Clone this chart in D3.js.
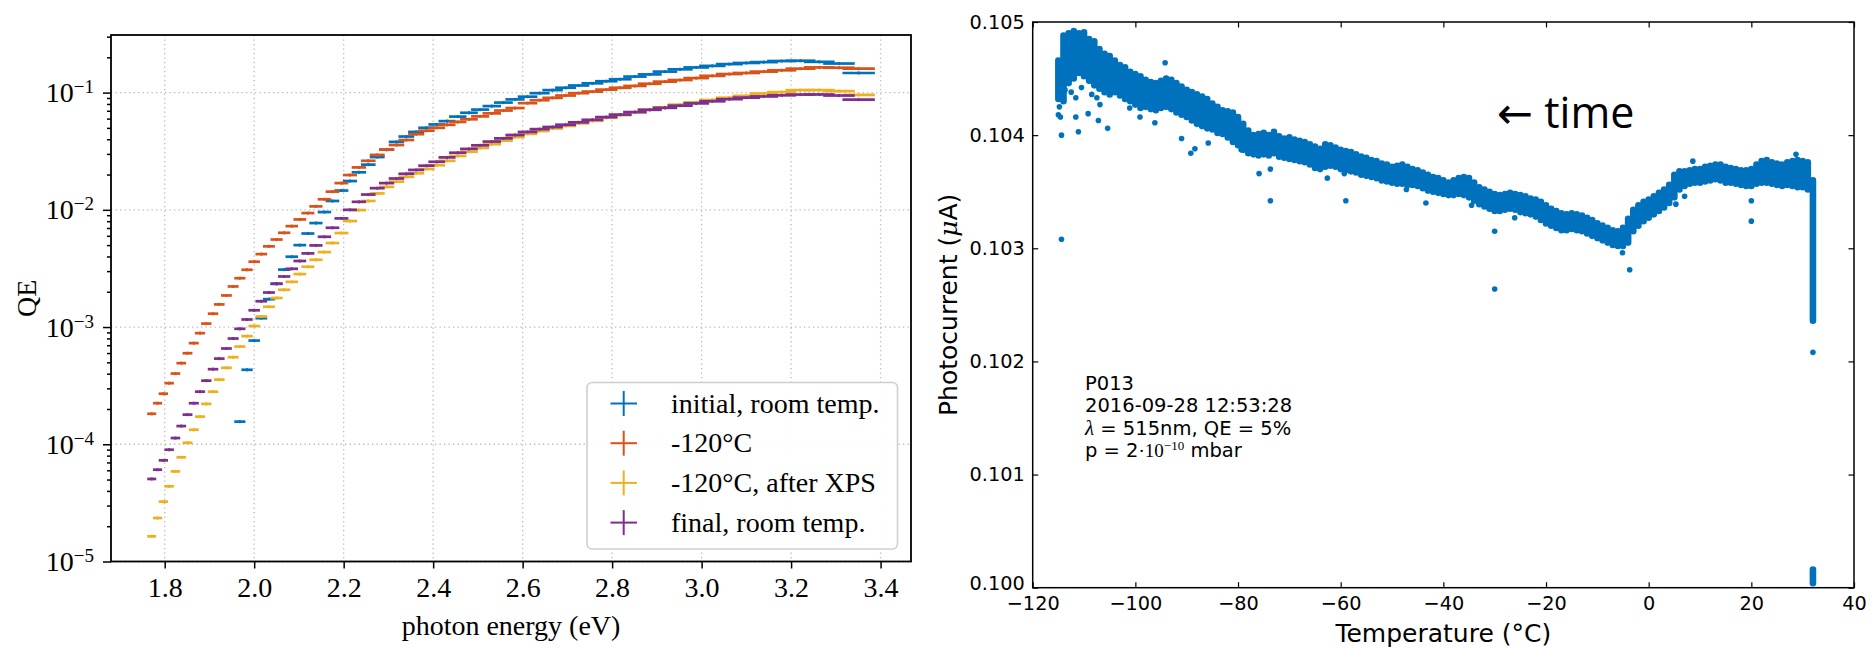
<!DOCTYPE html>
<html>
<head>
<meta charset="utf-8">
<script src="https://cdn.jsdelivr.net/npm/d3@7"></script>
<style>
  body { margin: 0; background: #fff; }
</style>
</head>
<body>
<svg id="chart" width="1876" height="648"></svg>
<script>
// ---------- left panel : QE spectra ----------
const photonEnergy = [1.771,1.784,1.797,1.810,1.824,1.837,1.851,1.865,1.879,1.893,
  1.908,1.922,1.938,1.953,1.968,1.984,2.000,2.016,2.033,2.050,
  2.067,2.084,2.102,2.120,2.138,2.157,2.175,2.195,2.214,2.234,
  2.255,2.275,2.296,2.318,2.340,2.362,2.385,2.408,2.431,2.455,
  2.480,2.505,2.531,2.557,2.583,2.611,2.638,2.667,2.696,2.725,
  2.756,2.787,2.818,2.851,2.884,2.918,2.952,2.988,3.024,3.062,
  3.100,3.139,3.179,3.221,3.263,3.307,3.351];

const qeInitial = [null,null,null,null,null,null,null,null,null,null,
  null,null,null,null,1.56e-4,4.32e-4,7.67e-4,1.19e-3,1.73e-3,2.34e-3,
  3.09e-3,3.98e-3,5.00e-3,6.28e-3,7.71e-3,9.57e-3,1.19e-2,1.46e-2,1.76e-2,2.09e-2,
  2.43e-2,2.82e-2,3.26e-2,3.80e-2,4.22e-2,4.62e-2,5.01e-2,5.35e-2,5.71e-2,6.24e-2,
  6.73e-2,7.16e-2,7.67e-2,8.22e-2,8.75e-2,9.23e-2,9.89e-2,0.105,0.110,0.115,
  0.120,0.125,0.130,0.137,0.143,0.151,0.158,0.164,0.169,0.175,
  0.179,0.182,0.186,0.187,0.183,0.177,0.147];

const qeCold = [1.82e-4,2.24e-4,2.70e-4,3.32e-4,4.01e-4,4.92e-4,5.98e-4,7.29e-4,8.87e-4,1.07e-3,
  1.30e-3,1.56e-3,1.86e-3,2.22e-3,2.61e-3,3.08e-3,3.61e-3,4.19e-3,4.88e-3,5.58e-3,
  6.37e-3,7.26e-3,8.28e-3,9.38e-3,1.07e-2,1.23e-2,1.43e-2,1.69e-2,1.98e-2,2.30e-2,
  2.62e-2,2.94e-2,3.26e-2,3.57e-2,3.94e-2,4.42e-2,4.73e-2,5.01e-2,5.31e-2,5.62e-2,
  5.92e-2,6.27e-2,6.65e-2,7.03e-2,7.38e-2,8.13e-2,8.61e-2,9.02e-2,9.44e-2,9.89e-2,
  0.102,0.106,0.110,0.114,0.119,0.124,0.128,0.133,0.139,0.144,
  0.147,0.151,0.155,0.160,0.164,0.163,0.160];

const qeColdXps = [1.64e-5,2.35e-5,3.24e-5,4.38e-5,5.87e-5,7.74e-5,1.03e-4,1.33e-4,1.72e-4,2.21e-4,
  2.81e-4,3.56e-4,4.49e-4,5.53e-4,6.82e-4,8.36e-4,1.02e-3,1.23e-3,1.49e-3,1.77e-3,
  2.08e-3,2.43e-3,2.83e-3,3.27e-3,3.75e-3,4.36e-3,5.21e-3,6.34e-3,8.02e-3,9.95e-3,
  1.19e-2,1.38e-2,1.57e-2,1.74e-2,1.91e-2,2.05e-2,2.23e-2,2.40e-2,2.62e-2,2.88e-2,
  3.13e-2,3.37e-2,3.63e-2,3.89e-2,4.17e-2,4.45e-2,4.70e-2,4.95e-2,5.20e-2,5.47e-2,
  5.75e-2,6.10e-2,6.43e-2,6.79e-2,7.16e-2,7.50e-2,7.89e-2,8.26e-2,8.65e-2,9.04e-2,
  9.38e-2,9.82e-2,0.101,0.105,0.105,0.103,9.55e-2];

const qeFinal = [5.06e-5,6.07e-5,7.29e-5,8.99e-5,1.13e-4,1.43e-4,1.79e-4,2.24e-4,2.81e-4,3.49e-4,
  4.37e-4,5.38e-4,6.56e-4,7.98e-4,9.66e-4,1.16e-3,1.39e-3,1.66e-3,1.97e-3,2.34e-3,
  2.70e-3,3.14e-3,3.66e-3,4.25e-3,4.97e-3,5.89e-3,7.03e-3,8.45e-3,1.00e-2,1.17e-2,
  1.35e-2,1.53e-2,1.69e-2,1.85e-2,2.03e-2,2.19e-2,2.38e-2,2.57e-2,2.80e-2,3.07e-2,
  3.31e-2,3.55e-2,3.82e-2,4.07e-2,4.35e-2,4.62e-2,4.88e-2,5.09e-2,5.32e-2,5.58e-2,
  5.86e-2,6.18e-2,6.49e-2,6.82e-2,7.13e-2,7.41e-2,7.74e-2,8.09e-2,8.43e-2,8.79e-2,
  9.06e-2,9.27e-2,9.48e-2,9.62e-2,9.64e-2,9.44e-2,8.71e-2];

const seriesNames = ["initial, room temp.", "-120°C", "-120°C, after XPS", "final, room temp."];
const seriesColors = ["#0072bd", "#d95319", "#edb120", "#7e2f8e"];
const bandwidthNm = 4;     // monochromator half width -> horizontal error bar
const qeRelErr = 0.03;     // vertical error bar
const energyTicks = [1.8, 2.0, 2.2, 2.4, 2.6, 2.8, 3.0, 3.2, 3.4];
const qeTicks = [1e-5, 1e-4, 1e-3, 1e-2, 1e-1];

// ---------- right panel : photocurrent vs temperature ----------
const bandTemp = [-115,-114,-113,-112,-111,-110,-109,-108,-107,-106,-105,-104,-103,-102,-101,
  -100,-99,-98,-97,-96,-95,-94,-93,-92,-91,-90,-89,-88,-87,-86,-85,-84,-83,-82,-81,
  -80,-79,-78,-77,-76,-75,-74,-73,-72,-71,-70,-69,-68,-67,-66,-65,-64,-63,-62,-61,
  -60,-59,-58,-57,-56,-55,-54,-53,-52,-51,-50,-49,-48,-47,-46,-45,-44,-43,-42,-41,
  -40,-39,-38,-37,-36,-35,-34,-33,-32,-31,-30,-29,-28,-27,-26,-25,-24,-23,-22,-21,
  -20,-19,-18,-17,-16,-15,-14,-13,-12,-11,-10,-9,-8,-7,-6,-5,-4,-3,-2,-1,
  0,1,2,3,4,5,6,7,8,9,10,11,12,13,14,15,16,17,18,19,
  20,21,22,23,24,25,26,27,28,29,30,31,32,32];

const bandLow = [0.10432,0.10430,0.10446,0.10450,0.10455,0.10452,0.10448,0.10444,0.10441,0.10438,0.10436,0.10438,0.10435,0.10432,0.10430,
  0.10427,0.10424,0.10425,0.10423,0.10422,0.10424,0.10425,0.10423,0.10420,0.10418,0.10416,0.10413,0.10410,0.10408,0.10406,0.10405,0.10402,0.10401,0.10398,0.10394,
  0.10391,0.10387,0.10384,0.10383,0.10382,0.10383,0.10382,0.10384,0.10381,0.10380,0.10379,0.10378,0.10377,0.10376,0.10374,0.10371,0.10370,0.10372,0.10373,0.10372,
  0.10370,0.10369,0.10368,0.10367,0.10365,0.10364,0.10363,0.10362,0.10360,0.10359,0.10358,0.10357,0.10357,0.10356,0.10356,0.10355,0.10353,0.10351,0.10350,0.10349,
  0.10348,0.10347,0.10347,0.10348,0.10347,0.10345,0.10342,0.10339,0.10337,0.10335,0.10333,0.10333,0.10334,0.10335,0.10334,0.10332,0.10331,0.10330,0.10328,0.10325,
  0.10322,0.10320,0.10318,0.10316,0.10316,0.10317,0.10316,0.10315,0.10313,0.10311,0.10309,0.10307,0.10305,0.10303,0.10302,0.10302,0.10305,0.10315,0.10320,0.10324,
  0.10327,0.10330,0.10333,0.10336,0.10340,0.10345,0.10352,0.10355,0.10357,0.10358,0.10358,0.10359,0.10360,0.10361,0.10360,0.10358,0.10358,0.10357,0.10356,0.10355,
  0.10355,0.10357,0.10358,0.10358,0.10357,0.10356,0.10355,0.10356,0.10355,0.10354,0.10354,0.10352,0.10236,0.10004];

const bandHigh = [0.10466,0.10488,0.10490,0.10492,0.10490,0.10491,0.10485,0.10483,0.10476,0.10472,0.10470,0.10466,0.10462,0.10460,0.10456,
  0.10454,0.10452,0.10449,0.10447,0.10446,0.10448,0.10450,0.10449,0.10446,0.10443,0.10440,0.10438,0.10436,0.10434,0.10432,0.10428,0.10425,0.10422,0.10421,0.10420,
  0.10416,0.10410,0.10404,0.10400,0.10401,0.10402,0.10400,0.10403,0.10399,0.10397,0.10398,0.10396,0.10395,0.10394,0.10392,0.10390,0.10388,0.10392,0.10391,0.10389,
  0.10387,0.10386,0.10385,0.10383,0.10381,0.10380,0.10378,0.10377,0.10375,0.10374,0.10372,0.10373,0.10374,0.10372,0.10370,0.10369,0.10367,0.10365,0.10363,0.10362,
  0.10360,0.10358,0.10360,0.10362,0.10363,0.10362,0.10358,0.10354,0.10352,0.10350,0.10348,0.10347,0.10348,0.10349,0.10348,0.10347,0.10346,0.10344,0.10343,0.10341,
  0.10338,0.10335,0.10333,0.10331,0.10330,0.10331,0.10330,0.10329,0.10327,0.10325,0.10322,0.10320,0.10318,0.10316,0.10315,0.10318,0.10326,0.10334,0.10338,0.10341,
  0.10343,0.10346,0.10349,0.10352,0.10356,0.10365,0.10368,0.10368,0.10369,0.10370,0.10370,0.10372,0.10373,0.10374,0.10374,0.10372,0.10371,0.10370,0.10369,0.10369,
  0.10370,0.10374,0.10377,0.10378,0.10376,0.10375,0.10374,0.10376,0.10377,0.10378,0.10377,0.10376,0.10360,0.10016];

const outlierTemp = [-114.4,-114.4,-114.6,-115.0,-114.8,-113.7,-112.5,-111.1,-111.6,-111.6,-110.5,-109.2,-108.5,-107.5,-107.2,-106.9,-105.4,
  -101.1,-99.1,-96.2,-94.2,-91.0,-89.2,-88.4,-85.8,-80.6,-79.4,-75.9,-73.7,-73.7,-62.6,-59.3,-59.0,
  -47.2,-43.4,-34.5,-30.0,-30.0,-26.1,-5.1,-3.7,5.3,7.0,8.6,20.0,20.0,28.7,32.0];
const outlierCurrent = [0.10308,0.10400,0.10416,0.10418,0.10425,0.10440,0.10438,0.10403,0.10416,0.10433,0.10442,0.10419,0.10436,0.10433,0.10413,0.10427,0.10406,
  0.10424,0.10416,0.10411,0.10464,0.10397,0.10384,0.10388,0.10393,0.10396,0.10387,0.10366,0.10370,0.10342,0.10362,0.10366,0.10342,
  0.10352,0.10340,0.10338,0.10315,0.10264,0.10327,0.10296,0.10281,0.10339,0.10346,0.10377,0.10342,0.10324,0.10383,0.10208];

const tempTicks = [-120, -100, -80, -60, -40, -20, 0, 20, 40];
const currentTicks = [0.100, 0.101, 0.102, 0.103, 0.104, 0.105];
const dotColor = "#0072bd";

// ================= drawing =================
const svg = d3.select("#chart");
svg.append("rect").attr("width", 1876).attr("height", 648).attr("fill", "#fff");

// ---- left panel ----
const L = { left: 111, right: 911, top: 35, bottom: 561.5 };
const xE = d3.scaleLinear().domain([1.680, 3.468]).range([L.left, L.right]);
const yQ = d3.scaleLog().domain([1e-5, 0.31]).range([L.bottom, L.top]);
const serif = "'Liberation Serif', 'Times New Roman', serif";

const gL = svg.append("g").attr("font-family", serif);

// dotted grid
gL.append("g").selectAll("line").data(energyTicks).join("line")
    .attr("x1", d => xE(d)).attr("x2", d => xE(d))
    .attr("y1", L.top).attr("y2", L.bottom);
gL.append("g").selectAll("line").data(qeTicks).join("line")
    .attr("x1", L.left).attr("x2", L.right)
    .attr("y1", d => yQ(d)).attr("y2", d => yQ(d));
gL.selectAll("g line")
    .attr("stroke", "#b8b8b8").attr("stroke-width", 1.3).attr("stroke-dasharray", "1.3,3.2");

// error bars
const halfWidth = e => e * e * bandwidthNm / 1240;
const qeSeries = [qeInitial, qeCold, qeColdXps, qeFinal];
qeSeries.forEach((vals, i) => {
  const pts = photonEnergy.map((e, j) => ({ e: e, q: vals[j] })).filter(d => d.q != null);
  const g = gL.append("g").attr("stroke", seriesColors[i]).attr("stroke-width", 2.7);
  g.selectAll("line.h").data(pts).join("line").attr("class", "h")
      .attr("x1", d => xE(d.e - halfWidth(d.e))).attr("x2", d => xE(d.e + halfWidth(d.e)))
      .attr("y1", d => yQ(d.q)).attr("y2", d => yQ(d.q));
  g.selectAll("line.v").data(pts).join("line").attr("class", "v")
      .attr("stroke-width", 2)
      .attr("x1", d => xE(d.e)).attr("x2", d => xE(d.e))
      .attr("y1", d => yQ(d.q * (1 - qeRelErr))).attr("y2", d => yQ(d.q * (1 + qeRelErr)));
});

// axes (ticks outward)
const minorQ = yQ.ticks().filter(d => !qeTicks.includes(d));
gL.append("g").attr("transform", `translate(${L.left},0)`)
    .call(d3.axisLeft(yQ).tickValues(minorQ).tickSize(4).tickFormat(""))
    .call(g => g.select(".domain").remove());
gL.append("g").attr("transform", `translate(${L.left},0)`)
    .call(d3.axisLeft(yQ).tickValues(qeTicks).tickSize(8).tickFormat(""))
    .call(g => g.select(".domain").remove());
gL.selectAll(".tick line").attr("stroke", "#000").attr("stroke-width", 1.5);

const xAxisL = gL.append("g").attr("transform", `translate(0,${L.bottom})`)
    .call(d3.axisBottom(xE).tickValues(energyTicks).tickSize(7).tickPadding(9).tickFormat(d3.format(".1f")));
xAxisL.select(".domain").remove();
xAxisL.selectAll("line").attr("stroke", "#000").attr("stroke-width", 1.5);
xAxisL.selectAll("text").attr("font-family", serif).attr("font-size", 28).attr("fill", "#000");

// log tick labels 10^n
const yLab = gL.append("g").selectAll("text").data(qeTicks).join("text")
    .attr("x", L.left - 17).attr("y", d => yQ(d) + 9.5)
    .attr("text-anchor", "end").attr("font-size", 28).attr("fill", "#000");
yLab.append("tspan").text("10");
yLab.append("tspan").attr("font-size", 19).attr("dy", -9)
    .text(d => "\u2212" + Math.round(-Math.log10(d)));

gL.append("rect").attr("x", L.left).attr("y", L.top)
    .attr("width", L.right - L.left).attr("height", L.bottom - L.top)
    .attr("fill", "none").attr("stroke", "#000").attr("stroke-width", 1.8);

gL.append("text").attr("transform", `translate(36,${(L.top + L.bottom) / 2}) rotate(-90)`)
    .attr("text-anchor", "middle").attr("font-size", 28).text("QE");
gL.append("text").attr("x", (L.left + L.right) / 2).attr("y", 635)
    .attr("text-anchor", "middle").attr("font-size", 28).text("photon energy (eV)");

// legend
const leg = gL.append("g").attr("transform", "translate(587,382.5)");
leg.append("rect").attr("width", 310.5).attr("height", 166.5).attr("rx", 5)
    .attr("fill", "#fff").attr("fill-opacity", 0.92)
    .attr("stroke", "#cfcfcf").attr("stroke-width", 1.6);
seriesNames.forEach((name, i) => {
  const cy = 21 + i * 39.7;
  leg.append("line").attr("x1", 23.5).attr("x2", 50).attr("y1", cy).attr("y2", cy)
      .attr("stroke", seriesColors[i]).attr("stroke-width", 2);
  leg.append("line").attr("x1", 36.7).attr("x2", 36.7).attr("y1", cy - 12.5).attr("y2", cy + 12.5)
      .attr("stroke", seriesColors[i]).attr("stroke-width", 2);
  leg.append("text").attr("x", 84).attr("y", cy + 9).attr("font-size", 28).text(name);
});

// ---- right panel ----
const R = { left: 1032.7, right: 1854, top: 22, bottom: 587.7 };
const xT = d3.scaleLinear().domain([-120, 40]).range([R.left, R.right]);
const yI = d3.scaleLinear().domain([0.100, 0.105]).range([R.bottom, R.top]);
const sans = "'DejaVu Sans', sans-serif";
const gR = svg.append("g").attr("font-family", sans);

// dense part of the scatter: one vertical run of markers per 1 °C bin
gR.append("g").selectAll("line").data(d3.range(bandTemp.length)).join("line")
    .attr("x1", i => xT(bandTemp[i])).attr("x2", i => xT(bandTemp[i]))
    .attr("y1", i => yI(bandLow[i])).attr("y2", i => yI(bandHigh[i]))
    .attr("stroke", dotColor).attr("stroke-width", 6.6).attr("stroke-linecap", "round");
gR.append("g").selectAll("circle").data(d3.range(outlierTemp.length)).join("circle")
    .attr("cx", i => xT(outlierTemp[i])).attr("cy", i => yI(outlierCurrent[i]))
    .attr("r", 2.8).attr("fill", dotColor);

const styleAxis = g => {
  g.select(".domain").remove();
  g.selectAll("line").attr("stroke", "#000").attr("stroke-width", 1.2);
  g.selectAll("text").attr("font-family", sans).attr("font-size", 19.3).attr("fill", "#000");
};
gR.append("g").attr("transform", `translate(0,${R.bottom})`)
    .call(d3.axisBottom(xT).tickValues(tempTicks).tickSizeInner(-5.5).tickSizeOuter(0).tickPadding(9))
    .call(styleAxis);
gR.append("g").attr("transform", `translate(0,${R.top})`)
    .call(d3.axisTop(xT).tickValues(tempTicks).tickSizeInner(-5.5).tickSizeOuter(0).tickFormat(""))
    .call(styleAxis);
const yAxisR = gR.append("g").attr("transform", `translate(${R.left},0)`)
    .call(d3.axisLeft(yI).tickValues(currentTicks).tickSizeInner(-5.5).tickSizeOuter(0).tickPadding(8)
      .tickFormat(d3.format(".3f")))
    .call(styleAxis);
// bottom label sits on the frame corner, lift it a touch off the x labels
yAxisR.selectAll("text").filter(d => d === currentTicks[0]).attr("dy", "0.1em");
gR.append("g").attr("transform", `translate(${R.right},0)`)
    .call(d3.axisRight(yI).tickValues(currentTicks).tickSizeInner(-5.5).tickSizeOuter(0).tickFormat(""))
    .call(styleAxis);

gR.append("rect").attr("x", R.left).attr("y", R.top)
    .attr("width", R.right - R.left).attr("height", R.bottom - R.top)
    .attr("fill", "none").attr("stroke", "#000").attr("stroke-width", 1.5);

gR.append("text").attr("x", (R.left + R.right) / 2).attr("y", 641.5)
    .attr("text-anchor", "middle").attr("font-size", 25).text("Temperature (°C)");
const yTitle = gR.append("text")
    .attr("transform", `translate(957,${(R.top + R.bottom) / 2}) rotate(-90)`)
    .attr("text-anchor", "middle").attr("font-size", 25);
yTitle.append("tspan").text("Photocurrent (");
yTitle.append("tspan").attr("font-family", "'DejaVu Serif', serif").attr("font-style", "italic").text("μ");
yTitle.append("tspan").text("A)");

// info box
const note = gR.append("g").attr("font-size", 19.5);
note.append("text").attr("x", 1085).attr("y", 389.5).text("P013");
note.append("text").attr("x", 1085).attr("y", 412).text("2016-09-28 12:53:28");
const l3 = note.append("text").attr("x", 1085).attr("y", 434.5);
l3.append("tspan").attr("font-family", serif).attr("font-style", "italic").attr("font-size", 21).text("λ");
l3.append("tspan").text(" = 515nm, QE = 5%");
const l4 = note.append("text").attr("x", 1085).attr("y", 457);
l4.append("tspan").text("p = 2");
l4.append("tspan").attr("font-family", serif).attr("font-size", 19).text("·10");
l4.append("tspan").attr("font-family", serif).attr("font-size", 13).attr("dy", -7).text("\u221210");
l4.append("tspan").attr("dy", 7).text(" mbar");

gR.append("text").attr("x", 1497).attr("y", 128)
    .attr("font-family", "'Open Sans', 'DejaVu Sans', sans-serif").attr("font-size", 43)
    .text("← time");
</script>
</body>
</html>
